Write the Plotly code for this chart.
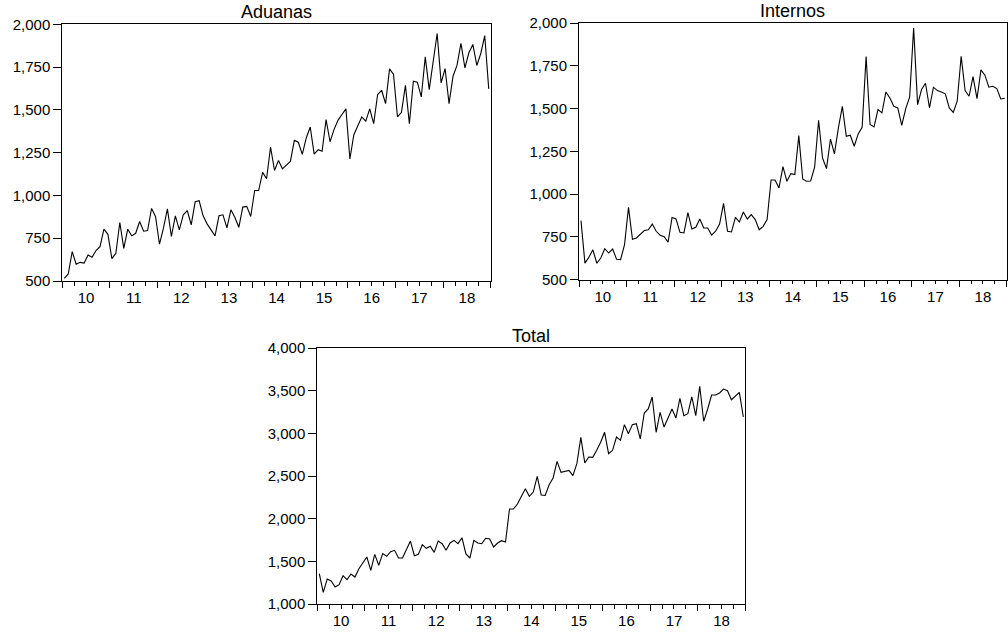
import plotly.graph_objects as go

# ---------------- data (monthly, 2010m01 .. 2018m12) ----------------
year_labels = ["10", "11", "12", "13", "14", "15", "16", "17", "18"]

aduanas = [
    516, 541, 672, 598, 609, 605, 652, 639, 678, 701, 803, 773,
    631, 662, 842, 691, 803, 764, 779, 848, 791, 795, 924, 877,
    715, 809, 922, 760, 881, 799, 887, 912, 828, 963, 969, 881,
    834, 795, 764, 881, 887, 811, 916, 873, 814, 932, 936, 877,
    1029, 1029, 1135, 1098, 1283, 1146, 1205, 1156, 1180, 1199, 1322, 1311,
    1240, 1336, 1400, 1242, 1268, 1258, 1443, 1314, 1385, 1439, 1473, 1506,
    1213, 1355, 1408, 1459, 1434, 1506, 1420, 1590, 1615, 1537, 1740, 1707,
    1459, 1486, 1644, 1420, 1668, 1662, 1576, 1810, 1619, 1775, 1947, 1658,
    1742, 1537, 1697, 1760, 1889, 1746, 1834, 1883, 1760, 1830, 1935, 1623,
]

internos = [
    845, 597, 631, 675, 596, 627, 681, 656, 679, 619, 617, 705,
    923, 736, 744, 767, 787, 792, 825, 783, 759, 751, 720, 864,
    855, 777, 773, 892, 796, 806, 855, 802, 802, 761, 783, 825,
    946, 783, 779, 864, 837, 896, 855, 880, 851, 792, 812, 851,
    1083, 1083, 1036, 1161, 1075, 1120, 1114, 1342, 1087, 1075, 1077, 1157,
    1432, 1211, 1149, 1322, 1235, 1387, 1513, 1338, 1344, 1280, 1352, 1391,
    1804, 1407, 1393, 1494, 1475, 1597, 1562, 1513, 1504, 1402, 1500, 1568,
    1971, 1523, 1611, 1648, 1504, 1625, 1605, 1597, 1586, 1504, 1478, 1543,
    1806, 1605, 1572, 1687, 1558, 1726, 1695, 1625, 1630, 1617, 1556, 1560,
]

total = [
    1355, 1137, 1293, 1270, 1199, 1227, 1332, 1285, 1352, 1316, 1414, 1480,
    1551, 1395, 1582, 1453, 1590, 1559, 1613, 1629, 1539, 1539, 1637, 1738,
    1566, 1582, 1695, 1652, 1676, 1605, 1738, 1707, 1629, 1715, 1746, 1707,
    1777, 1586, 1539, 1746, 1715, 1707, 1770, 1762, 1668, 1715, 1742, 1727,
    2113, 2113, 2172, 2254, 2351, 2262, 2312, 2496, 2277, 2273, 2398, 2477,
    2672, 2543, 2551, 2566, 2504, 2645, 2953, 2652, 2723, 2719, 2801, 2895,
    3012, 2762, 2801, 2957, 2918, 3102, 2996, 3102, 3113, 2934, 3238, 3285,
    3426, 3012, 3246, 3074, 3180, 3285, 3180, 3410, 3207, 3230, 3426, 3207,
    3551, 3141, 3285, 3449, 3449, 3473, 3519, 3500, 3394, 3441, 3480, 3191,
]

titles = ["Aduanas", "Internos", "Total"]
y_ranges = [(500, 2000), (500, 2000), (1000, 4000)]
y_steps = [250, 250, 500]

# ---------------- layout helpers ----------------
W, H = 1008, 635
FONT = "Liberation Sans, Arial, sans-serif"
n = len(aduanas)
xs = list(range(n))
x_range = [-0.5, n - 0.5]
year_bounds = [-0.5 + 12 * k for k in range(len(year_labels) + 1)]
year_centers = [5.5 + 12 * k for k in range(len(year_labels))]

# panel boxes in pixels (left, right, top, bottom)
boxes = [
    (62.3, 490.7, 24.4, 281.0),
    (579.0, 1006.7, 23.0, 279.7),
    (317.3, 745.3, 348.0, 604.0),
]

fig = go.Figure()
series = [aduanas, internos, total]

for k, (vals, title, (y0, y1), step, (l, r, t, b)) in enumerate(
        zip(series, titles, y_ranges, y_steps, boxes)):
    i = k + 1
    xa = "x" if i == 1 else f"x{i}"
    ya = "y" if i == 1 else f"y{i}"
    xo = f"x{i + 3}"
    dom_x = [l / W, r / W]
    dom_y = [1 - b / H, 1 - t / H]

    fig.add_trace(go.Scatter(x=xs, y=vals, xaxis=xa, yaxis=ya, mode="lines",
                             line=dict(color="black", width=1.1),
                             showlegend=False, hoverinfo="skip"))
    fig.add_trace(go.Scatter(x=[], y=[], xaxis=xo, yaxis=ya, mode="lines",
                             showlegend=False, hoverinfo="skip"))

    xkey = "xaxis" if i == 1 else f"xaxis{i}"
    ykey = "yaxis" if i == 1 else f"yaxis{i}"
    okey = f"xaxis{i + 3}"

    fig.layout[xkey] = dict(
        domain=dom_x, anchor=ya, range=x_range, automargin=False,
        showline=True, linecolor="black", linewidth=1, mirror=True,
        showgrid=False, zeroline=False,
        tickmode="array", tickvals=year_bounds, ticks="outside",
        ticklen=6, tickwidth=1, tickcolor="black", showticklabels=False,
        minor=dict(tickmode="linear", tick0=-0.5, dtick=3, ticks="outside",
                   ticklen=3.5, tickwidth=1, tickcolor="black", showgrid=False),
        fixedrange=True,
    )
    fig.layout[okey] = dict(
        overlaying=xa, anchor=ya, side="bottom", range=x_range,
        automargin=False,
        showline=False, showgrid=False, zeroline=False,
        tickmode="array", tickvals=year_centers, ticktext=year_labels,
        ticks="outside", ticklen=3, tickcolor="rgba(0,0,0,0)",
        tickfont=dict(family=FONT, size=15, color="black"),
        fixedrange=True,
    )
    fig.layout[ykey] = dict(
        domain=dom_y, anchor=xa, range=[y0, y1], automargin=False,
        showline=True, linecolor="black", linewidth=1, mirror=True,
        showgrid=False, zeroline=False,
        tickmode="array", tickvals=list(range(y0, y1 + 1, step)),
        tickformat=",d", ticks="outside", ticklen=8, tickwidth=1,
        tickcolor="black",
        tickfont=dict(family=FONT, size=15, color="black"),
        fixedrange=True,
    )
    fig.add_annotation(text=title, xref="paper", yref="paper",
                       x=(dom_x[0] + dom_x[1]) / 2, y=dom_y[1],
                       xanchor="center", yanchor="bottom", yshift=0,
                       showarrow=False,
                       font=dict(family=FONT, size=18, color="black"))

fig.update_layout(width=W, height=H, margin=dict(l=0, r=0, t=0, b=0),
                  paper_bgcolor="white", plot_bgcolor="white",
                  showlegend=False)

fig.write_html("out.html")
